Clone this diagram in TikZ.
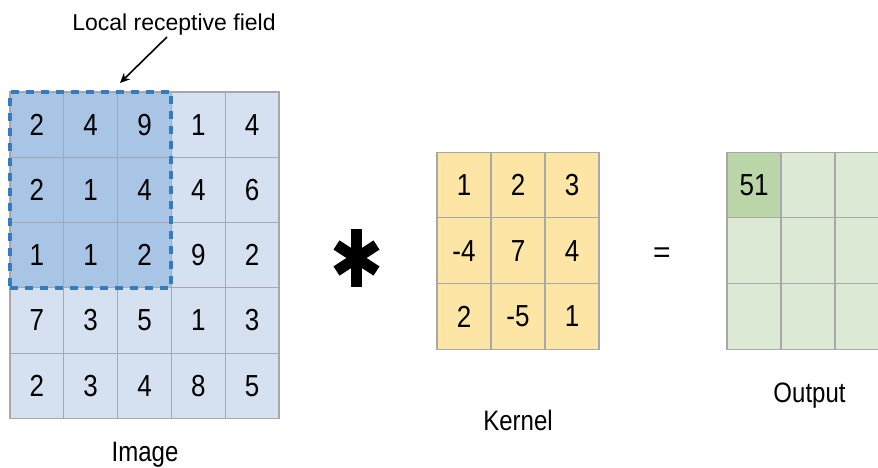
\documentclass[tikz,border=0pt]{standalone}
\usepackage{graphicx}
\usepackage{fontspec}
\setmainfont{Liberation Sans}
\usetikzlibrary{arrows.meta,calc,fit}

\definecolor{imgblue}{RGB}{213,225,240}
\definecolor{fieldblue}{RGB}{168,197,229}
\definecolor{fieldline}{RGB}{55,122,190}
\definecolor{kernyellow}{RGB}{252,229,165}
\definecolor{outgreen}{RGB}{220,233,212}
\definecolor{hitgreen}{RGB}{186,214,168}
\definecolor{gridgrey}{RGB}{168,168,168}

\newcommand\cellnum[1]{\scalebox{1}[1.17]{#1}}

\tikzset{
  imgcell/.style={draw=gridgrey, line width=1.2pt, fill=imgblue, inner sep=0pt, outer sep=0pt,
    minimum width=53.8pt, minimum height=65.3pt, font=\fontsize{26}{26}\selectfont},
  fieldcell/.style={imgcell, fill=fieldblue},
  kercell/.style={imgcell, fill=kernyellow, minimum width=54pt, minimum height=65.7pt},
  outcell/.style={kercell, fill=outgreen},
  hitcell/.style={kercell, fill=hitgreen},
  fieldframe/.style={draw=fieldline, line width=4pt, dash pattern=on 8pt off 7pt, inner sep=0pt},
  caption/.style={anchor=base, font=\fontsize{24}{24}\selectfont},
}

\begin{document}
\begin{tikzpicture}[x=1pt, y=-1pt]
  %%%%% START %%%%%
  \useasboundingbox (0,0) rectangle (878,468);
  \clip (0,0) rectangle (878,468);

  % image, 5x5
  \node[fieldcell] (i11) at (36.9,124.6) {\cellnum{2}};
  \node[fieldcell] (i12) at (90.7,124.6) {\cellnum{4}};
  \node[fieldcell] (i13) at (144.5,124.6) {\cellnum{9}};
  \node[imgcell] (i14) at (198.3,124.6) {\cellnum{1}};
  \node[imgcell] (i15) at (252.1,124.6) {\cellnum{4}};

  \node[fieldcell] (i21) at (36.9,189.9) {\cellnum{2}};
  \node[fieldcell] (i22) at (90.7,189.9) {\cellnum{1}};
  \node[fieldcell] (i23) at (144.5,189.9) {\cellnum{4}};
  \node[imgcell] (i24) at (198.3,189.9) {\cellnum{4}};
  \node[imgcell] (i25) at (252.1,189.9) {\cellnum{6}};

  \node[fieldcell] (i31) at (36.9,255.2) {\cellnum{1}};
  \node[fieldcell] (i32) at (90.7,255.2) {\cellnum{1}};
  \node[fieldcell] (i33) at (144.5,255.2) {\cellnum{2}};
  \node[imgcell] (i34) at (198.3,255.2) {\cellnum{9}};
  \node[imgcell] (i35) at (252.1,255.2) {\cellnum{2}};

  \node[imgcell] (i41) at (36.9,320.5) {\cellnum{7}};
  \node[imgcell] (i42) at (90.7,320.5) {\cellnum{3}};
  \node[imgcell] (i43) at (144.5,320.5) {\cellnum{5}};
  \node[imgcell] (i44) at (198.3,320.5) {\cellnum{1}};
  \node[imgcell] (i45) at (252.1,320.5) {\cellnum{3}};

  \node[imgcell] (i51) at (36.9,385.8) {\cellnum{2}};
  \node[imgcell] (i52) at (90.7,385.8) {\cellnum{3}};
  \node[imgcell] (i53) at (144.5,385.8) {\cellnum{4}};
  \node[imgcell] (i54) at (198.3,385.8) {\cellnum{8}};
  \node[imgcell] (i55) at (252.1,385.8) {\cellnum{5}};

  \node[fieldframe, fit=(i11)(i33)] (field) {};

  \node[caption] (image label) at (145,461.7) {\scalebox{1}[1.17]{Image}};

  % local receptive field
  \node[anchor=base, font=\fontsize{23}{23}\selectfont] (field label) at (174,30.7) {Local receptive field};
  \coordinate (field tail) at (167,37);
  \coordinate (field tip) at (120,83);
  \draw[line width=1.6pt, -{Stealth[length=10pt,width=9pt]}] (field tail) -- (field tip);

  % convolution sign
  \coordinate (conv) at (356.5,258);
  \draw[line width=11pt] ($(conv)+(0,-29)$) -- ($(conv)+(0,29)$);
  \draw[line width=11pt] ($(conv)+(-20,-13)$) -- ($(conv)+(20,13)$);
  \draw[line width=11pt] ($(conv)+(-20,13)$) -- ($(conv)+(20,-13)$);

  % kernel, 3x3
  \node[kercell] (k11) at (464,185) {\cellnum{1}};
  \node[kercell] (k12) at (518,185) {\cellnum{2}};
  \node[kercell] (k13) at (572,185) {\cellnum{3}};

  \node[kercell] (k21) at (464,250.7) {\cellnum{-4}};
  \node[kercell] (k22) at (518,250.7) {\cellnum{7}};
  \node[kercell] (k23) at (572,250.7) {\cellnum{4}};

  \node[kercell] (k31) at (464,316.4) {\cellnum{2}};
  \node[kercell] (k32) at (518,316.4) {\cellnum{-5}};
  \node[kercell] (k33) at (572,316.4) {\cellnum{1}};

  \node[caption] (kernel label) at (518,430) {\scalebox{1}[1.17]{Kernel}};

  \node[font=\fontsize{30}{30}\selectfont] (equals) at (662,255.5) {=};

  % output, 3x3
  \node[hitcell] (o11) at (754,185) {\cellnum{51}};
  \node[outcell] (o12) at (808,185) {};
  \node[outcell] (o13) at (862,185) {};

  \node[outcell] (o21) at (754,250.7) {};
  \node[outcell] (o22) at (808,250.7) {};
  \node[outcell] (o23) at (862,250.7) {};

  \node[outcell] (o31) at (754,316.4) {};
  \node[outcell] (o32) at (808,316.4) {};
  \node[outcell] (o33) at (862,316.4) {};

  \node[caption] (output label) at (809.5,402.5) {\scalebox{1}[1.17]{Output}};
  %%%%% END %%%%%
\end{tikzpicture}
\end{document}
